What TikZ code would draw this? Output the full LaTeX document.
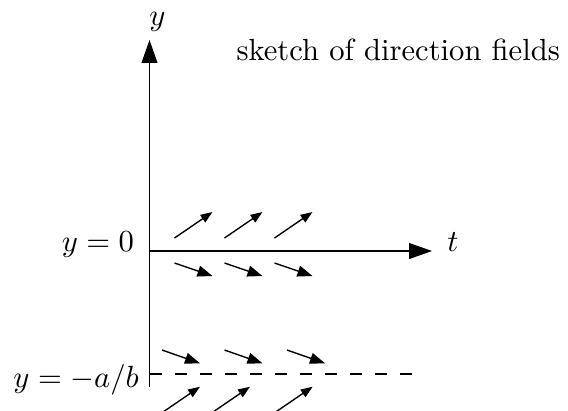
\documentclass[tikz,border=0pt]{standalone}
\usetikzlibrary{arrows.meta}
\begin{document}
\begin{tikzpicture}[x=0.3268pt,y=-0.3268pt,
  axis/.style={line width=0.36pt,-{Triangle[length=7.5pt,width=5.2pt]}},
  uparr/.style={line width=0.45pt,-{Triangle[length=3.9pt,width=2.9pt]}},
  downarr/.style={line width=0.45pt,-{Triangle[length=4.9pt,width=3.6pt]}},
  lbl/.style={inner sep=0pt,outer sep=0pt},
  dashline/.style={line width=0.36pt,dash pattern=on 3.92pt off 4.25pt}]
\useasboundingbox (0,0) rectangle (568,410);
\clip (0,0) rectangle (568,410);
% axes
\coordinate (ybot) at (149.5,387);
\coordinate (ytop) at (149.5,40);
\coordinate (O) at (149.5,251);
\coordinate (xend) at (432,251);
\draw[axis] (ybot) -- (ytop);
\draw[axis] (O) -- (xend);
% dashed line y = -a/b
\coordinate (d0) at (150,374);
\coordinate (d1) at (412,374);
\draw[dashline] (d0) -- (d1);
% labels
\node[lbl,anchor=base] (ylab) at (157.5,25.5) {$y$};
\node[lbl,anchor=base west] (tlab) at (447.5,251) {$t$};
\node[lbl,anchor=base west] (title) at (236.5,60.5) {sketch of direction fields};
\node[lbl,anchor=base east] (yzero) at (134,251.5) {$y=0$};
\node[lbl,anchor=base east] (yab) at (138.8,387) {$y=-a/b$};
% direction field arrows
\foreach \i/\x in {1/174.5,2/224.5,3/274.5}{
  \coordinate (uu\i s) at (\x,238);
  \coordinate (uu\i e) at ({\x+38},212);
  \draw[uparr] (uu\i s) -- (uu\i e);
  \coordinate (ud\i s) at (\x,263);
  \coordinate (ud\i e) at ({\x+38},276);
  \draw[downarr] (ud\i s) -- (ud\i e);
}
\foreach \i/\x in {1/162,2/224.5,3/287}{
  \coordinate (ld\i s) at (\x,350);
  \coordinate (ld\i e) at ({\x+38},363.3);
  \draw[downarr] (ld\i s) -- (ld\i e);
}
\foreach \i/\x in {1/200,2/250,3/312.7}{
  \coordinate (lu\i e) at (\x,386.7);
  \coordinate (lu\i s) at ({\x-38},412.7);
  \draw[uparr] (lu\i s) -- (lu\i e);
}
\end{tikzpicture}
\end{document}
